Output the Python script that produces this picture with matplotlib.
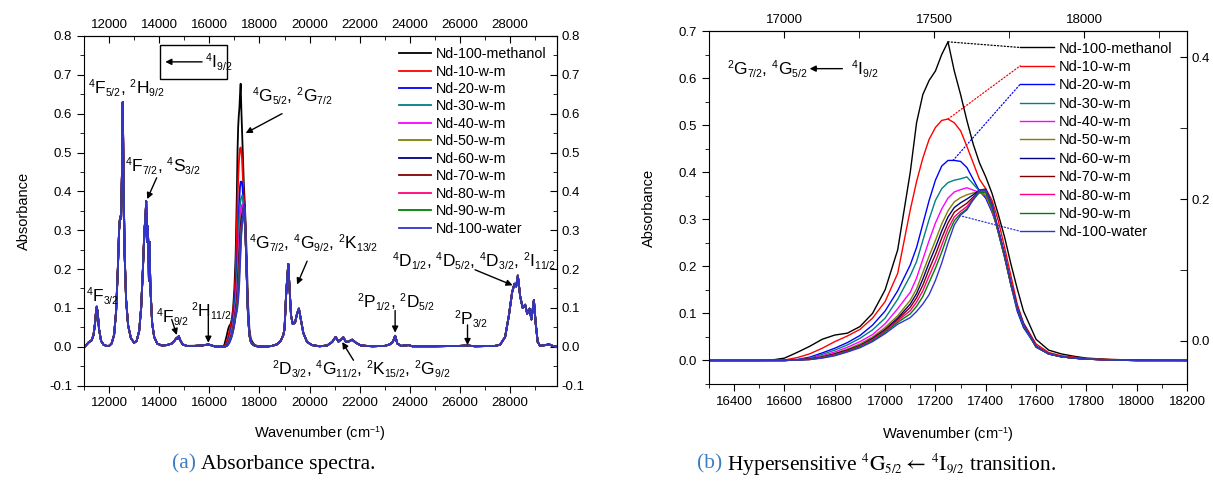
import numpy as np
import matplotlib
matplotlib.use('Agg')
import matplotlib.pyplot as plt
from matplotlib.patches import Rectangle, ConnectionPatch
from matplotlib.ticker import MultipleLocator, FixedLocator
try:
    import matplotlib._mathtext as _mt
    _mt.SHRINK_FACTOR = 0.6
except Exception:
    pass

plt.rcParams['font.family'] = ['Liberation Sans', 'DejaVu Sans']
plt.rcParams['mathtext.fontset'] = 'custom'
plt.rcParams['mathtext.rm'] = 'Liberation Sans'
plt.rcParams['mathtext.it'] = 'Liberation Sans:italic'
plt.rcParams['mathtext.bf'] = 'Liberation Sans:bold'

# ---------------- data ----------------
series_names = ['Nd-100-methanol', 'Nd-10-w-m', 'Nd-20-w-m', 'Nd-30-w-m', 'Nd-40-w-m',
                'Nd-50-w-m', 'Nd-60-w-m', 'Nd-70-w-m', 'Nd-80-w-m', 'Nd-90-w-m',
                'Nd-100-water']
series_colors = ['#000000', '#FF0000', '#0000FF', '#008080', '#FF00FF', '#808000',
                 '#000080', '#800000', '#FF0080', '#008000', '#3333CC']

# hypersensitive band region (cm-1)
wn_band = [16300, 16500, 16550, 16600, 16650, 16700, 16750, 16800, 16850, 16900,
           16950, 17000, 17050, 17100, 17125, 17150, 17175, 17200, 17225, 17250,
           17275, 17300, 17325, 17350, 17375, 17400, 17425, 17450, 17475, 17500,
           17525, 17550, 17600, 17650, 17700, 17750, 17800, 17900, 18000, 18200]
abs_meth = [0, 0, 0.001, 0.005, 0.017, 0.030, 0.045, 0.054, 0.058, 0.072,
            0.100, 0.150, 0.235, 0.400, 0.505, 0.565, 0.595, 0.615, 0.650, 0.677,
            0.615, 0.565, 0.510, 0.460, 0.420, 0.390, 0.355, 0.310, 0.262, 0.205,
            0.153, 0.105, 0.045, 0.022, 0.014, 0.009, 0.005, 0.002, 0.001, 0.0]
abs_10 = [0, 0, 0, 0.001, 0.006, 0.014, 0.026, 0.040, 0.052, 0.066,
          0.090, 0.125, 0.185, 0.320, 0.380, 0.430, 0.470, 0.495, 0.510, 0.513,
          0.505, 0.488, 0.455, 0.420, 0.385, 0.365, 0.340, 0.297, 0.240, 0.180,
          0.120, 0.080, 0.035, 0.017, 0.010, 0.007, 0.004, 0.002, 0.001, 0.0]
abs_20 = [0, 0, 0, 0, 0.002, 0.007, 0.016, 0.026, 0.038, 0.053,
          0.075, 0.105, 0.148, 0.203, 0.240, 0.290, 0.340, 0.383, 0.413, 0.425,
          0.425, 0.423, 0.410, 0.385, 0.360, 0.345, 0.315, 0.278, 0.225, 0.160,
          0.105, 0.070, 0.030, 0.014, 0.008, 0.005, 0.003, 0.001, 0.0, 0.0]
abs_30 = [0, 0, 0, 0, 0.001, 0.005, 0.013, 0.022, 0.033, 0.047,
          0.065, 0.090, 0.130, 0.180, 0.210, 0.255, 0.300, 0.340, 0.365, 0.378,
          0.383, 0.386, 0.390, 0.375, 0.360, 0.350, 0.318, 0.275, 0.222, 0.162,
          0.110, 0.074, 0.031, 0.015, 0.008, 0.005, 0.003, 0.001, 0.0, 0.0]
abs_40 = [0, 0, 0, 0, 0.001, 0.004, 0.010, 0.018, 0.028, 0.040,
          0.055, 0.078, 0.110, 0.145, 0.175, 0.215, 0.255, 0.292, 0.322, 0.345,
          0.358, 0.363, 0.367, 0.362, 0.357, 0.350, 0.320, 0.272, 0.220, 0.162,
          0.112, 0.076, 0.030, 0.014, 0.008, 0.005, 0.003, 0.001, 0.0, 0.0]
abs_50 = [0, 0, 0, 0, 0.001, 0.003, 0.008, 0.015, 0.024, 0.035,
          0.050, 0.070, 0.095, 0.128, 0.152, 0.187, 0.222, 0.255, 0.290, 0.318,
          0.337, 0.346, 0.352, 0.356, 0.357, 0.350, 0.322, 0.272, 0.220, 0.162,
          0.112, 0.076, 0.029, 0.014, 0.008, 0.005, 0.003, 0.001, 0.0, 0.0]
abs_60 = [0, 0, 0, 0, 0.001, 0.003, 0.007, 0.014, 0.022, 0.032,
          0.047, 0.066, 0.090, 0.120, 0.142, 0.173, 0.208, 0.240, 0.275, 0.305,
          0.325, 0.335, 0.343, 0.352, 0.362, 0.364, 0.332, 0.278, 0.224, 0.165,
          0.114, 0.078, 0.030, 0.014, 0.008, 0.005, 0.003, 0.001, 0.0, 0.0]
abs_70 = [0, 0, 0, 0, 0.001, 0.003, 0.007, 0.013, 0.021, 0.031,
          0.045, 0.064, 0.087, 0.113, 0.133, 0.160, 0.194, 0.225, 0.260, 0.292,
          0.315, 0.325, 0.334, 0.347, 0.360, 0.360, 0.328, 0.275, 0.222, 0.163,
          0.113, 0.077, 0.029, 0.014, 0.008, 0.005, 0.003, 0.001, 0.0, 0.0]
abs_80 = [0, 0, 0, 0, 0.001, 0.002, 0.006, 0.012, 0.020, 0.030,
          0.044, 0.062, 0.084, 0.106, 0.124, 0.148, 0.180, 0.210, 0.245, 0.280,
          0.305, 0.317, 0.327, 0.344, 0.358, 0.358, 0.326, 0.273, 0.220, 0.162,
          0.112, 0.076, 0.029, 0.014, 0.008, 0.005, 0.003, 0.001, 0.0, 0.0]
abs_90 = [0, 0, 0, 0, 0.001, 0.002, 0.006, 0.011, 0.019, 0.029,
          0.042, 0.060, 0.081, 0.099, 0.115, 0.136, 0.166, 0.196, 0.230, 0.268,
          0.297, 0.312, 0.322, 0.341, 0.357, 0.356, 0.325, 0.272, 0.219, 0.161,
          0.111, 0.075, 0.028, 0.014, 0.008, 0.005, 0.003, 0.001, 0.0, 0.0]
abs_water = [0, 0, 0, 0, 0.001, 0.002, 0.005, 0.010, 0.018, 0.027,
             0.040, 0.057, 0.077, 0.091, 0.104, 0.120, 0.140, 0.170, 0.207, 0.250,
             0.288, 0.309, 0.320, 0.342, 0.362, 0.362, 0.330, 0.277, 0.224, 0.165,
             0.113, 0.077, 0.029, 0.014, 0.008, 0.005, 0.003, 0.001, 0.0, 0.0]

# rest of the spectrum (common to all solutions)
wn_low = [11000, 11100, 11200, 11300, 11380, 11440, 11480, 11510, 11550, 11600,
          11680, 11780, 11900, 12000, 12100, 12200, 12280, 12350, 12400, 12440,
          12480, 12515, 12547, 12580, 12620, 12680, 12760, 12870, 13000, 13100,
          13200, 13280, 13350, 13410, 13450, 13480, 13510, 13540, 13570, 13590,
          13610, 13650, 13720, 13800, 13920, 14100, 14300, 14500, 14620, 14700,
          14740, 14780, 14830, 14930, 15100, 15400, 15700, 15900, 15960, 16050,
          16200]
abs_low = [-0.002, 0.005, 0.012, 0.016, 0.030, 0.060, 0.090, 0.103, 0.085, 0.045,
           0.015, 0.005, 0.002, 0.002, 0.008, 0.030, 0.090, 0.200, 0.300, 0.335,
           0.330, 0.450, 0.630, 0.420, 0.240, 0.120, 0.055, 0.022, 0.010, 0.015,
           0.040, 0.100, 0.200, 0.300, 0.330, 0.375, 0.270, 0.310, 0.260, 0.170,
           0.270, 0.150, 0.060, 0.025, 0.008, 0.003, 0.004, 0.008, 0.016, 0.023,
           0.020, 0.027, 0.018, 0.006, 0.002, 0.002, 0.003, 0.005, 0.006, 0.004,
           0.001]
wn_high = [18250, 18500, 18700, 18850, 18950, 19000, 19060, 19100, 19150, 19200,
           19260, 19330, 19420, 19500, 19573, 19650, 19750, 19900, 20100, 20400,
           20700, 20900, 21040, 21150, 21250, 21348, 21450, 21550, 21700, 21850,
           22050, 22500, 23000, 23200, 23320, 23412, 23500, 23650, 23948, 24100,
           25000, 26000, 26300, 26600, 27400, 27600, 27800, 27950, 28080, 28172,
           28240, 28308, 28400, 28500, 28600, 28680, 28772, 28850, 28948, 29020,
           29100, 29200, 29400, 29550, 29700, 29850]
abs_high = [0.000, 0.002, 0.006, 0.015, 0.030, 0.045, 0.130, 0.170, 0.213, 0.150,
            0.080, 0.058, 0.062, 0.085, 0.098, 0.070, 0.035, 0.012, 0.004, 0.001,
            0.003, 0.012, 0.025, 0.013, 0.018, 0.024, 0.012, 0.013, 0.018, 0.010,
            0.003, 0.001, 0.002, 0.006, 0.012, 0.028, 0.008, 0.002, 0.004, 0.001,
            0.001, 0.002, 0.003, 0.001, 0.002, 0.005, 0.025, 0.080, 0.140, 0.162,
            0.155, 0.183, 0.130, 0.100, 0.108, 0.085, 0.098, 0.070, 0.120, 0.060,
            0.012, 0.002, 0.004, 0.006, 0.002, 0.000]

band_series = [abs_meth, abs_10, abs_20, abs_30, abs_40, abs_50, abs_60, abs_70,
               abs_80, abs_90, abs_water]

# ---------------- figure ----------------
W, H = 1213, 484
fig = plt.figure(figsize=(W / 100, H / 100), dpi=100)

ax1 = fig.add_axes([84 / W, 1 - 385.5 / H, 472.5 / W, 349.5 / H])
ax2 = fig.add_axes([709 / W, 1 - 384 / H, 478 / W, 353 / H])

TICK_FS = 9.5
LEG_FS_L = 10.3
LEG_FS_R = 10.5
ANN = 12.5
ARW = dict(arrowstyle='-|>', color='black', lw=1, mutation_scale=9, shrinkA=0, shrinkB=0)

# ---- left panel ----
for name, col, yb in zip(series_names, series_colors, band_series):
    x = np.concatenate([wn_low, wn_band, wn_high])
    y = np.concatenate([abs_low, yb, abs_high])
    ax1.plot(x, y, color=col, lw=1.3, label=name)

ax1.set_xlim(11000, 29850)
ax1.set_ylim(-0.1, 0.8)
ax1.xaxis.set_major_locator(MultipleLocator(2000))
ax1.xaxis.set_minor_locator(MultipleLocator(1000))
ax1.yaxis.set_major_locator(MultipleLocator(0.1))
ax1.yaxis.set_minor_locator(MultipleLocator(0.05))
ax1.yaxis.set_major_formatter(plt.FuncFormatter(lambda v, p: f'{v:.1f}'))
ax1.tick_params(which='both', direction='out', labelsize=TICK_FS)
ax1.tick_params(which='major', length=5)
ax1.tick_params(which='minor', length=3)

t1 = ax1.secondary_xaxis('top')
t1.xaxis.set_major_locator(MultipleLocator(2000))
t1.xaxis.set_minor_locator(MultipleLocator(1000))
t1.tick_params(which='both', direction='in', labelsize=TICK_FS)
t1.tick_params(which='major', length=5)
t1.tick_params(which='minor', length=3)
r1 = ax1.secondary_yaxis('right')
r1.yaxis.set_major_locator(MultipleLocator(0.1))
r1.yaxis.set_minor_locator(MultipleLocator(0.05))
r1.yaxis.set_major_formatter(plt.FuncFormatter(lambda v, p: f'{v:.1f}'))
r1.tick_params(which='both', direction='in', labelsize=TICK_FS)
r1.tick_params(which='major', length=5)
r1.tick_params(which='minor', length=3)

ax1.set_xlabel('Wavenumber (cm$^{-1}$)', fontsize=10.5)
ax1.set_ylabel('Absorbance', fontsize=10.5)
ax1.xaxis.set_label_coords(0.5, -0.112)
ax1.yaxis.set_label_coords(-0.112, 0.5)

leg1 = ax1.legend(loc='upper left', bbox_to_anchor=(0.667, 0.968), frameon=False,
                  fontsize=LEG_FS_L, borderpad=0, borderaxespad=0,
                  handlelength=2.2, handletextpad=0.35, labelspacing=0.24)

ax1.text(11150, 0.666, r'$^4\mathrm{F}_{5/2}$, $^2\mathrm{H}_{9/2}$', fontsize=ANN, va='center')
ax1.text(12650, 0.466, r'$^4\mathrm{F}_{7/2}$, $^4\mathrm{S}_{3/2}$', fontsize=ANN, va='center')
ax1.annotate('', xy=(13520, 0.380), xytext=(13900, 0.435), arrowprops=ARW)
ax1.text(11080, 0.131, r'$^4\mathrm{F}_{3/2}$', fontsize=ANN, va='center')
ax1.text(13880, 0.077, r'$^4\mathrm{F}_{9/2}$', fontsize=ANN, va='center')
ax1.annotate('', xy=(14700, 0.030), xytext=(14500, 0.070), arrowprops=ARW)
ax1.text(15280, 0.092, r'$^2\mathrm{H}_{11/2}$', fontsize=ANN, va='center')
ax1.annotate('', xy=(15960, 0.010), xytext=(15960, 0.078), arrowprops=ARW)
ax1.text(17720, 0.646, r'$^4\mathrm{G}_{5/2}$, $^2\mathrm{G}_{7/2}$', fontsize=ANN, va='center')
ax1.annotate('', xy=(17450, 0.550), xytext=(18900, 0.600), arrowprops=ARW)
ax1.text(17600, 0.267, r'$^4\mathrm{G}_{7/2}$, $^4\mathrm{G}_{9/2}$, $^2\mathrm{K}_{13/2}$',
         fontsize=ANN, va='center')
ax1.annotate('', xy=(19500, 0.160), xytext=(19900, 0.220), arrowprops=ARW)
ax1.text(18500, -0.057, r'$^2\mathrm{D}_{3/2}$, $^4\mathrm{G}_{11/2}$, $^2\mathrm{K}_{15/2}$, $^2\mathrm{G}_{9/2}$',
         fontsize=ANN, va='center')
ax1.annotate('', xy=(21300, 0.012), xytext=(21750, -0.035), arrowprops=ARW)
ax1.text(21900, 0.115, r'$^2\mathrm{P}_{1/2}$, $^2\mathrm{D}_{5/2}$', fontsize=ANN, va='center')
ax1.annotate('', xy=(23412, 0.036), xytext=(23412, 0.093), arrowprops=ARW)
ax1.text(25750, 0.071, r'$^2\mathrm{P}_{3/2}$', fontsize=ANN, va='center')
ax1.annotate('', xy=(26300, 0.004), xytext=(26300, 0.056), arrowprops=ARW)
ax1.text(23300, 0.220, r'$^4\mathrm{D}_{1/2}$, $^4\mathrm{D}_{5/2}$, $^4\mathrm{D}_{3/2}$, $^2\mathrm{I}_{11/2}$',
         fontsize=ANN, va='center')
ax1.annotate('', xy=(28100, 0.158), xytext=(26600, 0.198), arrowprops=ARW)

# boxed "<- 4I9/2"
ax1.add_patch(Rectangle((0.161, 0.877), 0.142, 0.097, transform=ax1.transAxes,
                        fill=False, ec='black', lw=1))
ax1.annotate('', xy=(0.172, 0.926), xytext=(0.250, 0.926), xycoords='axes fraction',
             arrowprops=ARW)
ax1.text(0.256, 0.926, r'$^4\mathrm{I}_{9/2}$', fontsize=ANN, va='center',
         transform=ax1.transAxes)

# ---- right panel ----
for name, col, yb in zip(series_names, series_colors, band_series):
    ax2.plot(wn_band, yb, color=col, lw=1.0, label=name)

ax2.set_xlim(16300, 18200)
ax2.set_ylim(-0.05, 0.7)
ax2.xaxis.set_major_locator(MultipleLocator(200))
ax2.xaxis.set_minor_locator(MultipleLocator(100))
ax2.yaxis.set_major_locator(MultipleLocator(0.1))
ax2.yaxis.set_minor_locator(MultipleLocator(0.05))
ax2.yaxis.set_major_formatter(plt.FuncFormatter(lambda v, p: f'{v:.1f}'))
ax2.tick_params(which='both', direction='out', labelsize=TICK_FS)
ax2.tick_params(which='major', length=5)
ax2.tick_params(which='minor', length=3)


def bot2top(x):
    return 17000 + (np.asarray(x) - 16598) * 0.8386


def top2bot(t):
    return 16598 + (np.asarray(t) - 17000) / 0.8386


def l2r(v):
    return (np.asarray(v) - 0.0418) * 0.6645


def r2l(v):
    return np.asarray(v) / 0.6645 + 0.0418


t2 = ax2.secondary_xaxis('top', functions=(bot2top, top2bot))
t2.xaxis.set_major_locator(FixedLocator([17000, 17500, 18000]))
t2.xaxis.set_minor_locator(FixedLocator([17250, 17750, 18250]))
t2.tick_params(which='both', direction='in', labelsize=TICK_FS)
t2.tick_params(which='major', length=5)
t2.tick_params(which='minor', length=5)
r2 = ax2.secondary_yaxis('right', functions=(l2r, r2l))
r2.yaxis.set_major_locator(FixedLocator([0.0, 0.2, 0.4]))
r2.yaxis.set_minor_locator(FixedLocator([0.1, 0.3]))
r2.yaxis.set_major_formatter(plt.FuncFormatter(lambda v, p: f'{v:.1f}'))
r2.tick_params(which='both', direction='in', labelsize=TICK_FS)
r2.tick_params(which='major', length=5)
r2.tick_params(which='minor', length=5)

ax2.set_xlabel('Wavenumber (cm$^{-1}$)', fontsize=10.5)
ax2.set_ylabel('Absorbance', fontsize=10.5)
ax2.xaxis.set_label_coords(0.5, -0.116)
ax2.yaxis.set_label_coords(-0.111, 0.5)

leg2 = ax2.legend(loc='upper left', bbox_to_anchor=(0.651, 0.97), frameon=False,
                  fontsize=LEG_FS_R, borderpad=0, borderaxespad=0,
                  handlelength=2.3, handletextpad=0.35, labelspacing=0.3)

ax2.text(16370, 0.619, r'$^2\mathrm{G}_{7/2}$, $^4\mathrm{G}_{5/2}$', fontsize=ANN, va='center')
ax2.annotate('', xy=(16700, 0.620), xytext=(16830, 0.620), arrowprops=ARW)
ax2.text(16865, 0.619, r'$^4\mathrm{I}_{9/2}$', fontsize=ANN, va='center')

# dotted leader lines from band maxima to legend entries
fig.canvas.draw()
renderer = fig.canvas.get_renderer()
leader_pts = [(0, 17250, 0.677), (1, 17250, 0.513), (2, 17270, 0.425), (10, 17295, 0.308)]
leg_lines = leg2.get_lines()
for idx, xd, yd in leader_pts:
    bb = leg_lines[idx].get_window_extent(renderer)
    p = ax2.transAxes.inverted().transform((bb.x0, 0.5 * (bb.y0 + bb.y1)))
    cp = ConnectionPatch(xyA=(xd, yd), coordsA=ax2.transData,
                         xyB=(p[0], p[1]), coordsB=ax2.transAxes,
                         linestyle=':', color=series_colors[idx], lw=0.9)
    ax2.add_artist(cp)

# ---- captions ----
CAP_FS = 15.5
blue_cap = '#3B7CC4'


def caption(x, y, label, rest):
    t = fig.text(x, y, label, fontsize=CAP_FS, family='Liberation Serif', color=blue_cap,
                 va='center', math_fontfamily='stix')
    fig.canvas.draw()
    bb = t.get_window_extent(fig.canvas.get_renderer())
    fig.text(bb.x1 / W + 5 / W, y, rest, fontsize=CAP_FS, family='Liberation Serif',
             color='black', va='center', math_fontfamily='stix')


caption(172 / W, 1 - 464 / H, '(a)', 'Absorbance spectra.')
caption(697 / W, 1 - 464 / H, '(b)',
        r'Hypersensitive $^4\mathrm{G}_{5/2}\leftarrow\,^4\mathrm{I}_{9/2}$ transition.')

fig.savefig('out.png', dpi=100)
